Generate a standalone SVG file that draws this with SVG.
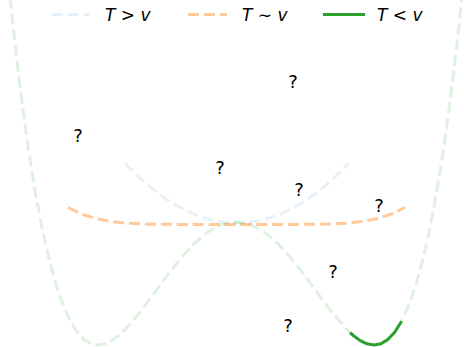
<svg xmlns="http://www.w3.org/2000/svg" width="464" height="347" viewBox="0 0 464 347">
<style>
.c{fill:none;stroke-width:3;stroke-linecap:butt;stroke-linejoin:round}
.dash{stroke-dasharray:11.1 4.8}
.blue{stroke:#1f77b4;stroke-opacity:0.1}
.orange{stroke:#ff7f0e;stroke-opacity:0.42}
.greenl{stroke:#2ca02c;stroke-opacity:0.15}
.green{stroke:#2ca02c}
.q{font-family:"DejaVu Sans",sans-serif;font-size:18px;fill:#000;text-anchor:middle}
.lg{font-family:"DejaVu Sans",sans-serif;font-size:17px;fill:#000}
.it{font-style:italic}
</style>
<rect width="464" height="347" fill="#fff"/>
<g id="connectors">
<polyline id="potential" class="c dash greenl" points="6.9,-34.1 11.1,7.3 15.2,45.7 22.1,103.1 29,152.8 35.9,195.5 42.8,231.6 49.7,261.8 56.6,286.4 63.5,306.1 70.4,321.2 77.3,332.2 84.2,339.6 91.1,343.7 98,345 104.9,343.8 111.8,340.6 118.7,335.5 125.6,329.1 139.4,313 153.2,294.6 167,275.8 180.8,258.2 194.6,243.1 208.4,231.6 222.2,224.4 236,222 249.8,224.4 263.6,231.6 277.4,243.1 291.2,258.2 305,275.8 318.8,294.6 332.6,313 346.4,329.1 353.3,335.5 360.2,340.6 367.1,343.8 374,345 380.9,343.7 387.8,339.6 394.7,332.2 401.6,321.2 408.5,306.1 415.4,286.4 422.3,261.8 429.2,231.6 436.1,195.5 443,152.8 449.9,103.1 456.8,45.7 460.9,7.3 465.1,-34.1"/>
<path id="high-T" class="c dash blue" d="M125,163 Q237,283 349,163"/>
<polyline id="critical-T" class="c dash orange" points="68,207.5 81.5,214 96.5,218.8 111.5,221.6 126.5,223.2 146.5,224.1 176.5,224.4 236.5,224.5 296.5,224.4 326.5,224.1 346.5,223.2 361.5,221.6 376.5,218.8 391.5,214 405,207.5"/>
<polyline id="low-T" class="c green" points="350,332.6 353.3,335.5 360.2,340.6 367.1,343.8 374,345 380.9,343.7 387.8,339.6 394.7,332.2 401.6,321.2"/>
</g>
<g id="legend">
<g id="legend-high">
<line class="c dash blue" x1="52" y1="14.5" x2="90" y2="14.5"/>
<text class="lg" x="105" y="21"><tspan class="it">T</tspan> &gt; <tspan class="it">v</tspan></text>
</g>
<g id="legend-critical">
<line class="c dash orange" x1="188" y1="14.5" x2="227" y2="14.5"/>
<text class="lg" x="242" y="21"><tspan class="it">T</tspan> ∼ <tspan class="it">v</tspan></text>
</g>
<g id="legend-low">
<line class="c green" x1="323" y1="14.5" x2="365" y2="14.5"/>
<text class="lg" x="377" y="21"><tspan class="it">T</tspan> &lt; <tspan class="it">v</tspan></text>
</g>
</g>
<g id="marks">
<text id="q1" class="q" x="78" y="142">?</text>
<text id="q2" class="q" x="293" y="88">?</text>
<text id="q3" class="q" x="220" y="174">?</text>
<text id="q4" class="q" x="299" y="196">?</text>
<text id="q5" class="q" x="379" y="212">?</text>
<text id="q6" class="q" x="333" y="278">?</text>
<text id="q7" class="q" x="288" y="332">?</text>
</g>
</svg>
